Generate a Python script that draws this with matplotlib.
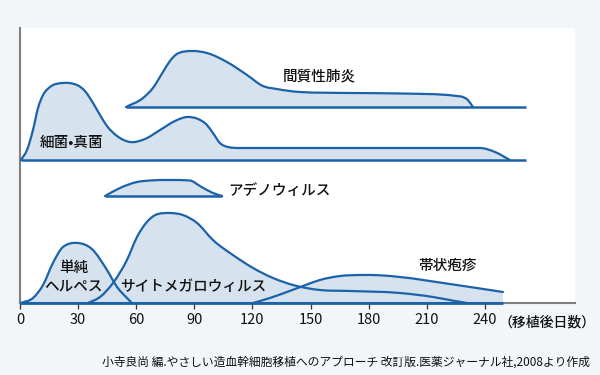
import numpy as np
import matplotlib
matplotlib.use("Agg")
import matplotlib.pyplot as plt
from matplotlib.path import Path
from matplotlib.patches import PathPatch

plt.rcParams['font.family'] = ['Noto Sans CJK JP', 'DejaVu Sans']

# ---- data (days after transplant, relative incidence height) ----
ip_days = [54.7, 63.5, 68.6, 73.8, 77.4, 81.0, 88.8, 96.5, 106.8, 117.2, 125.4, 132.6, 144.5, 170.3, 196.1, 225.5, 228.6, 231.2, 233.8]
ip_vals = [0, 9, 19, 35, 46, 53, 56, 54, 45, 32, 21, 18, 15, 14, 13.5, 11, 10, 7, 0]
ip_base_end = 261.2

bf_days = [0.5, 3.6, 6.7, 9.3, 11.9, 15.5, 22.0, 29.4, 33.5, 37.7, 41.3, 44.9, 50.1, 56.8, 64.5, 72.3, 80.0, 86.2, 91.9, 96.5, 99.6, 103.2, 107.4, 113.5, 144.5, 237.4, 245.2, 252.9]
bf_vals = [0, 10, 30, 52, 65, 73, 77, 75, 69, 57, 45, 34, 24, 18, 21, 30, 39, 43, 41, 35, 27, 17, 13, 12, 12, 12, 8, 0]
bf_base_end = 261.2

ad_days = [43.9, 51.6, 60.4, 67.1, 77.4, 87.7, 92.9, 99.6, 104.3]
ad_vals = [0, 8, 14, 15.5, 16, 15.5, 10, 3, 0]

hs_days = [0.5, 6.7, 11.9, 17.0, 22.2, 29.9, 37.1, 44.9, 50.1, 55.2, 57.8]
hs_vals = [0, 5, 18, 40, 56, 60, 54, 33, 16, 5, 0]

cmv_days = [35.1, 41.3, 48.0, 55.2, 60.4, 65.5, 71.2, 77.4, 84.1, 91.4, 99.6, 109.9, 120.3, 130.6, 140.9, 154.8, 170.3, 196.1, 213.2, 224.5, 230.7]
cmv_vals = [0, 6, 20, 43, 66, 81, 89, 90, 88, 80, 63, 48, 35, 25, 18, 13, 12, 10, 6, 2, 0]

hz_days = [120.3, 129.0, 137.8, 146.1, 154.8, 165.2, 176.0, 185.8, 196.1, 221.9, 249.3]
hz_vals = [0, 5, 11, 17, 23, 27, 28, 27.7, 26, 19, 11]

ticks = [0, 30, 60, 90, 120, 150, 180, 210, 240]
tick_labels = ['0', '30', '60', '90', '120', '150', '180', '210', '240']

# ---- style ----
LINE = '#1b62a8'
FILL = '#d6e3ef'
BG = '#f2f6f9'
GRAY = '#7f7f7f'


def slopes(x, y):
    """Bessel (3-point) derivatives, clamped where data is monotone."""
    x = np.asarray(x, float); y = np.asarray(y, float)
    h = np.diff(x); d = np.diff(y) / h
    n = len(x)
    m = np.zeros(n)
    for k in range(1, n - 1):
        mk = (h[k - 1] * d[k] + h[k] * d[k - 1]) / (h[k - 1] + h[k])
        if d[k - 1] * d[k] > 0:
            lim = 3 * min(abs(d[k - 1]), abs(d[k]))
            mk = np.sign(mk) * min(abs(mk), lim)
        elif d[k - 1] == 0 or d[k] == 0:
            mk = 0.0
        m[k] = mk
    m[0] = d[0]
    m[-1] = d[-1]
    return m


def curve_path(xs, ys):
    x = np.asarray(xs, float); y = np.asarray(ys, float)
    m = slopes(x, y)
    verts = [(x[0], y[0])]
    codes = [Path.MOVETO]
    for i in range(len(x) - 1):
        h = x[i + 1] - x[i]
        verts += [(x[i] + h / 3, y[i] + m[i] * h / 3),
                  (x[i + 1] - h / 3, y[i + 1] - m[i + 1] * h / 3),
                  (x[i + 1], y[i + 1])]
        codes += [Path.CURVE4] * 3
    return verts, codes


def add_ridge(ax, xs, ys, base, base_end=None):
    ys_off = [v + base for v in ys]
    verts, codes = curve_path(xs, ys_off)
    fv = list(verts) + [(xs[-1], base), (xs[0], base), (xs[0], ys_off[0])]
    fc = list(codes) + [Path.LINETO, Path.LINETO, Path.CLOSEPOLY]
    ax.add_patch(PathPatch(Path(fv, fc), facecolor=FILL, edgecolor='none', zorder=1))
    ax.add_patch(PathPatch(Path(verts, codes), facecolor='none', edgecolor=LINE, lw=1.6,
                           zorder=3, capstyle='round', joinstyle='round'))
    end = base_end if base_end is not None else xs[-1]
    ax.plot([xs[0], end], [base, base], color=LINE, lw=1.8, zorder=3, solid_capstyle='butt')


fig = plt.figure(figsize=(6, 3.75), dpi=100)
fig.patch.set_facecolor(BG)
ax = fig.add_axes([20 / 600, 72 / 375, 555 / 600, 275 / 375])
ax.set_facecolor('white')
ax.set_xlim(0, 286.5)
ax.set_ylim(0, 275)

# row baselines
B_IP, B_BF, B_AD, B_LOW = 196, 143, 107, 0

add_ridge(ax, ip_days, ip_vals, B_IP, ip_base_end)
add_ridge(ax, bf_days, bf_vals, B_BF, bf_base_end)
add_ridge(ax, ad_days, ad_vals, B_AD)
add_ridge(ax, hs_days, hs_vals, B_LOW)
add_ridge(ax, cmv_days, cmv_vals, B_LOW)
add_ridge(ax, hz_days, hz_vals, B_LOW)
ax.plot([0, hz_days[-1]], [0, 0], color=LINE, lw=2.0, zorder=4, clip_on=False, solid_capstyle='butt')

for s in ['top', 'right']:
    ax.spines[s].set_visible(False)
for s in ['left', 'bottom']:
    ax.spines[s].set_color(GRAY)
    ax.spines[s].set_linewidth(1.5)
ax.set_yticks([])
ax.set_xticks(ticks)
ax.set_xticklabels(tick_labels, fontsize=10.5, color='#111111')
ax.tick_params(axis='x', direction='out', length=4.5, width=0.9, color='#333333', pad=3)

tk = dict(fontsize=10.5, color='#111111', zorder=6, fontweight='medium')
ax.text(154.3, 227, '間質性肺炎', ha='center', va='center', **tk)
ax.text(26.8, 160, '細菌•真菌', ha='center', va='center', **tk)
ax.text(107.4, 112, 'アデノウィルス', ha='left', va='center', **tk)
ax.text(27.9, 35, '単純', ha='center', va='center', **tk)
ax.text(27.4, 16, 'ヘルペス', ha='center', va='center', **tk)
ax.text(89.3, 16, 'サイトメガロウィルス', ha='center', va='center', **tk)
ax.text(220.9, 37, '帯状疱疹', ha='center', va='center', **tk)

fig.text(499 / 600, 1 - 322 / 375, '（移植後日数）', ha='left', va='center', fontsize=10,
         color='#111111', fontweight='medium')
fig.text(590 / 600, 1 - 362 / 375,
         '小寺良尚 編.やさしい造血幹細胞移植へのアプローチ 改訂版.医薬ジャーナル社,2008より作成',
         ha='right', va='center', fontsize=8.5, color='#111111')

fig.savefig('out.png', dpi=100, facecolor=BG)
